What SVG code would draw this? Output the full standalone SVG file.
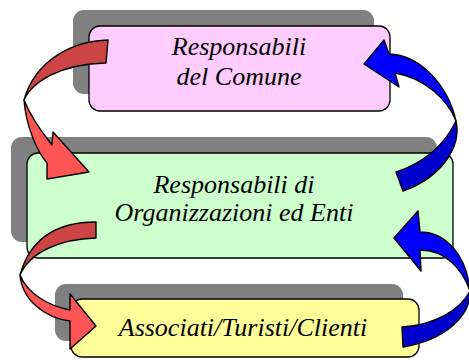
<svg xmlns="http://www.w3.org/2000/svg" width="469" height="360" viewBox="0 0 469 360">
<style>
.shadow{fill:#808080;stroke:none}
.box{stroke:#000;stroke-width:1.3}
.lbl{font-family:"Liberation Serif","Times New Roman",serif;font-style:italic;font-size:26px;fill:#000;text-anchor:middle}
.arr{stroke:#000;stroke-width:1.4;stroke-linejoin:round}
.rd{fill:#CC4444}.rl{fill:#FF5555}
.bd{fill:#0000CC}.bl{fill:#0000FF}
</style>
<rect width="469" height="360" fill="#fff"/>
<g id="node-comune">
<rect class="shadow" x="73" y="10" width="301" height="84" rx="11"/>
<rect class="box" x="89" y="26" width="301" height="85" rx="11" fill="#FFCCFF"/>
<text class="lbl" x="239" y="55">Responsabili</text>
<text class="lbl" x="239" y="85">del Comune</text>
</g>
<g id="node-organizzazioni">
<rect class="shadow" x="11" y="137" width="426" height="105" rx="11"/>
<rect class="box" x="27" y="153" width="426" height="105" rx="11" fill="#CCFFCC"/>
<text class="lbl" x="234" y="193">Responsabili di</text>
<text class="lbl" x="234" y="221">Organizzazioni ed Enti</text>
</g>
<g id="node-associati">
<rect class="shadow" x="55" y="284" width="348" height="57" rx="11"/>
<rect class="box" x="71" y="299" width="348" height="58" rx="11" fill="#FFFF99"/>
<text class="lbl" x="243" y="336">Associati/Turisti/Clienti</text>
</g>
<g id="connectors">
<g id="arrow-comune-org">
<path class="arr rd" d="M108,40 C75,41 36,58 24,100 C32,82 60,64 106,63 Z"/>
<path class="arr rl" d="M24,100 C26,125 36,150 47,163 L47,179 L89,172 L53,132 L52,145 C40,130 30,115 24,100 Z"/>
</g>
<g id="arrow-org-comune">
<path class="arr bl" d="M364,64 L384,40 L389,54 C420,55 448,85 456,121 C448,100 425,78 395,73 L399,87 Z"/>
<path class="arr bd" d="M456,121 C462,148 440,178 403,191 L396,172 C420,164 443,148 456,121 Z"/>
</g>
<g id="arrow-org-associati">
<path class="arr rd" d="M96,222 C65,222 32,232 20,275 C30,252 60,239 96,238 Z"/>
<path class="arr rl" d="M20,275 C22,300 45,318 70,321 L70,349 L96,326 L70,294 L70,310 C50,306 28,295 20,275 Z"/>
</g>
<g id="arrow-associati-org">
<path class="arr bl" d="M394,238 L418,211 L420,232 C445,232 467,255 470,291 C462,268 445,250 420,250 L421,271 Z"/>
<path class="arr bd" d="M470,291 C471,316 445,340 403,347 L402,327 C435,325 460,310 470,291 Z"/>
</g>
</g>
</svg>
